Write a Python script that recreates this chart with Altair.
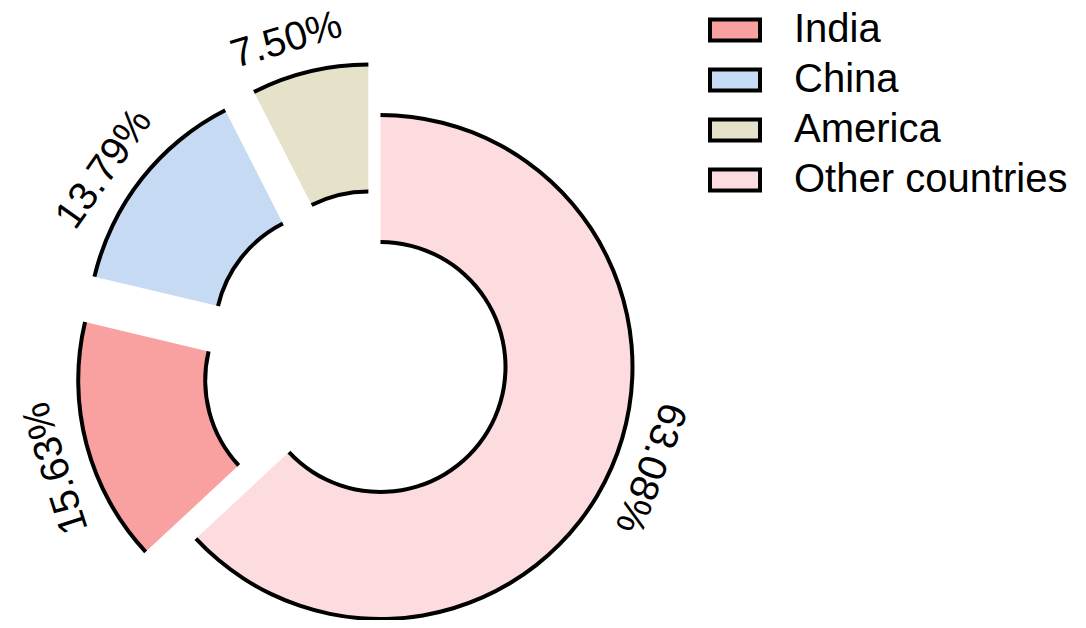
import altair as alt
import pandas as pd

# ---- data ----
countries = ["India", "China", "America", "Other countries"]
shares = [15.63, 13.79, 7.50, 63.08]
labels = ["15.63%", "13.79%", "7.50%", "63.08%"]
colors = ["#F9A0A0", "#C6DAF4", "#E6E1C9", "#FDDCE0"]
draw_order = ["Other countries", "India", "China", "America"]   # clockwise from 12 o'clock
exploded = ["India", "China", "America"]

# ---- layout constants (pixels, view coordinates) ----
CX, CY = 372.5, 359.0
R_OUT, R_IN = 252, 125
EXPLODE = 52
LABEL_R = 288
LABEL_SHIFT = -3.0  # degrees, labels sit slightly counter-clockwise of slice middle
SW = 2.0  # half stroke width of the black arcs

share_map = dict(zip(countries, shares))
label_map = dict(zip(countries, labels))
total = sum(shares)
rows = []
acc = 0.0
for c in draw_order:
    f0 = acc / total
    acc += share_map[c]
    f1 = acc / total
    rows.append({"country": c, "label": label_map[c], "f0": f0, "f1": f1,
                 "ex": EXPLODE if c in exploded else 0})
df = pd.DataFrame(rows)

base = (
    alt.Chart(df)
    .transform_calculate(t0="2*PI*datum.f0")
    .transform_calculate(t1="2*PI*datum.f1")
    .transform_calculate(mid="PI*(datum.f0+datum.f1)")
    .transform_calculate(cx=f"{CX} + datum.ex*sin(datum.mid)")
    .transform_calculate(cy=f"{CY} - datum.ex*cos(datum.mid)")
    .transform_calculate(deg=f"datum.mid*180/PI + ({LABEL_SHIFT})")
    .transform_calculate(lang="datum.deg*PI/180")
    .transform_calculate(lx=f"datum.cx + {LABEL_R}*sin(datum.lang)")
    .transform_calculate(ly=f"datum.cy - {LABEL_R}*cos(datum.lang)")
)

pos = dict(
    theta=alt.Theta("t0:Q", scale=None),
    theta2=alt.Theta2("t1:Q"),
    x=alt.X("cx:Q", scale=None),
    y=alt.Y("cy:Q", scale=None),
)

fill = base.mark_arc(radius=R_OUT, radius2=R_IN, opacity=1).encode(
    color=alt.Color(
        "country:N",
        scale=alt.Scale(domain=countries, range=colors),
        legend=alt.Legend(
            title=None,
            orient="none",
            legendX=700,
            legendY=-5,
            symbolType="M-1,-0.42H1V0.42H-1Z",
            symbolSize=2500,
            symbolStrokeColor="black",
            symbolStrokeWidth=4,
            symbolOpacity=1,
            labelFont="Liberation Sans",
            labelFontSize=40,
            labelColor="black",
            labelOffset=32,
            labelLimit=0,
            rowPadding=3,
            padding=0,
        ),
    ),
    **pos,
)

outer = base.mark_arc(radius=R_OUT + SW, radius2=R_OUT - SW, color="black").encode(**pos)
inner = base.mark_arc(radius=R_IN + SW, radius2=R_IN - SW, color="black").encode(**pos)

text = base.mark_text(
    font="Liberation Sans", fontSize=40, color="black", align="center", baseline="middle"
).encode(
    x=alt.X("lx:Q", scale=None),
    y=alt.Y("ly:Q", scale=None),
    angle=alt.Angle("deg:Q", scale=None),
    text="label:N",
)

chart = (
    alt.layer(fill, outer, inner, text)
    .properties(width=1070, height=612, autosize="none", padding=0, background="white")
    .configure_view(stroke=None)
)

chart.save("out.html", embed_options={"renderer": "svg", "actions": False})
